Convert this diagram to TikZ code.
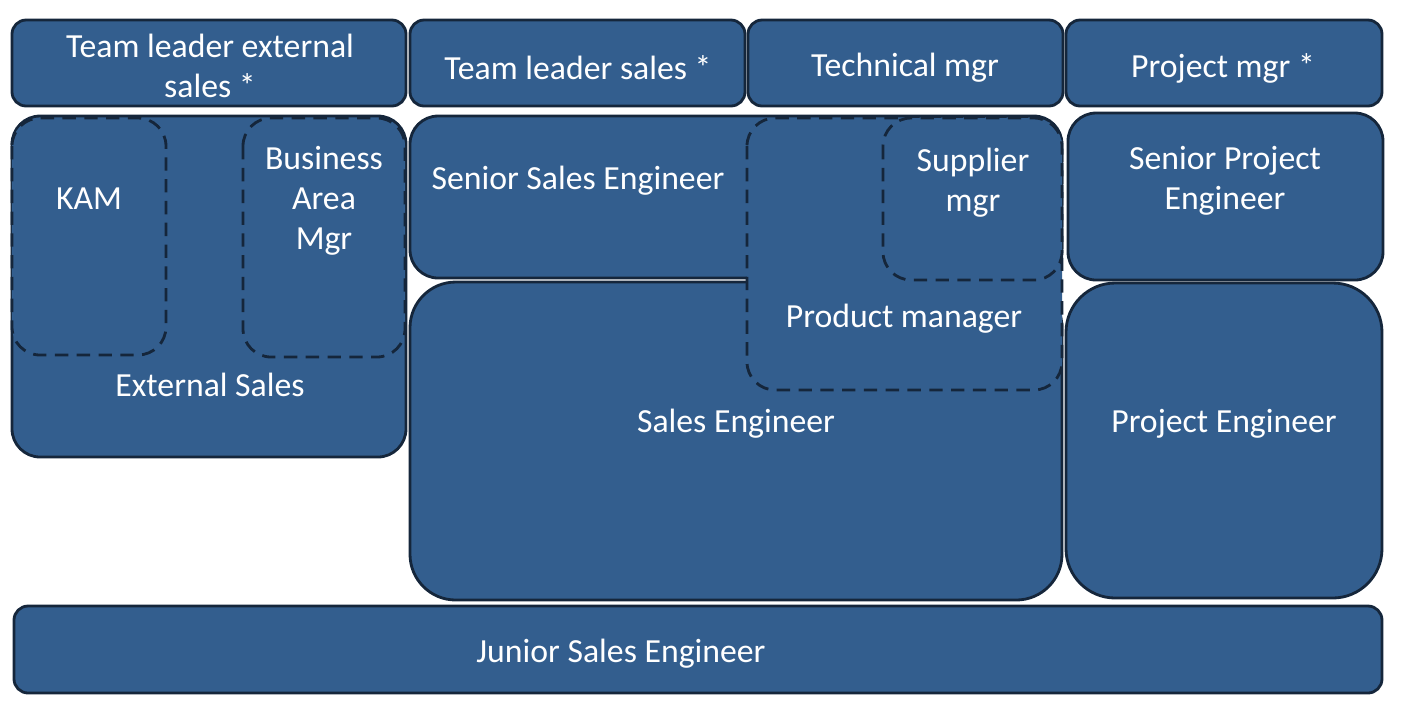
\documentclass[tikz,border=0pt]{standalone}
\usepackage{fontspec}
\setmainfont{Carlito}
\definecolor{unitblue}{HTML}{335E8E}
\definecolor{unitedge}{HTML}{15263B}
\tikzset{
  unit/.style={draw=unitedge, fill=unitblue, line width=0.8pt},
  subunit/.style={unit, dash pattern=on 3.8pt off 2.4pt},
  role/.style={text=white, align=center, inner sep=0pt,
    font=\fontsize{9.6}{11.4}\selectfont}
}
\begin{document}
\begin{tikzpicture}[yscale=-1]
        \useasboundingbox (0,0) rectangle (14.05,7.03);
        % top row: team leaders / managers
        \draw[unit, rounded corners=4pt] (0.12,0.20) rectangle (4.06,1.06);
        \draw[unit, rounded corners=4pt] (4.10,0.20) rectangle (7.45,1.06);
        \draw[unit, rounded corners=4pt] (7.48,0.20) rectangle (10.63,1.06);
        \draw[unit, rounded corners=4pt] (10.66,0.20) rectangle (13.82,1.06);
        \node[role] (tlext) at (2.10,0.66) {Team leader external\\ sales *};
        \node[role] (tlsales) at (5.78,0.68) {Team leader sales *};
        \node[role] (techmgr) at (9.05,0.68) {Technical mgr};
        \node[role] (projmgr) at (12.23,0.68) {Project mgr *};
        % external sales with KAM and business area mgr
        \draw[unit, rounded corners=8pt] (0.12,1.16) rectangle (4.06,4.57);
        \draw[subunit, rounded corners=8pt] (0.12,1.18) rectangle (1.66,3.55);
        \draw[subunit, rounded corners=8pt] (2.43,1.18) rectangle (4.05,3.57);
        \node[role] (kam) at (0.89,1.99) {KAM};
        \node[role] (bam) at (3.24,2.01) {Business\\ Area\\ Mgr};
        \node[role] (extsales) at (2.10,3.85) {External Sales};
        % sales engineers
        \draw[unit, rounded corners=8pt] (4.10,1.16) rectangle (10.62,2.78);
        \draw[unit, rounded corners=13pt] (4.10,2.82) rectangle (10.62,6.00);
        \node[role] (sense) at (5.78,1.81) {Senior Sales Engineer};
        \node[role] (salese) at (7.36,4.24) {Sales Engineer};
        % product manager with supplier mgr
        \draw[subunit, rounded corners=8pt] (7.47,1.18) rectangle (10.62,3.90);
        \draw[subunit, rounded corners=8pt] (8.83,1.18) rectangle (10.62,2.80);
        \node[role] (prodmgr) at (9.04,3.19) {Product manager};
        \node[role] (suppmgr) at (9.73,1.83) {Supplier\\ mgr};
        % project engineers
        \draw[unit, rounded corners=8pt] (10.68,1.13) rectangle (13.83,2.80);
        \draw[unit, rounded corners=14pt] (10.66,2.83) rectangle (13.82,5.98);
        \node[role] (senpe) at (12.25,1.81) {Senior Project\\ Engineer};
        \node[role] (projeng) at (12.24,4.24) {Project Engineer};
        % junior
        \draw[unit, rounded corners=4pt] (0.14,6.06) rectangle (13.82,6.93);
        \node[role] (junse) at (6.21,6.54) {Junior Sales Engineer};
\end{tikzpicture}
\end{document}
